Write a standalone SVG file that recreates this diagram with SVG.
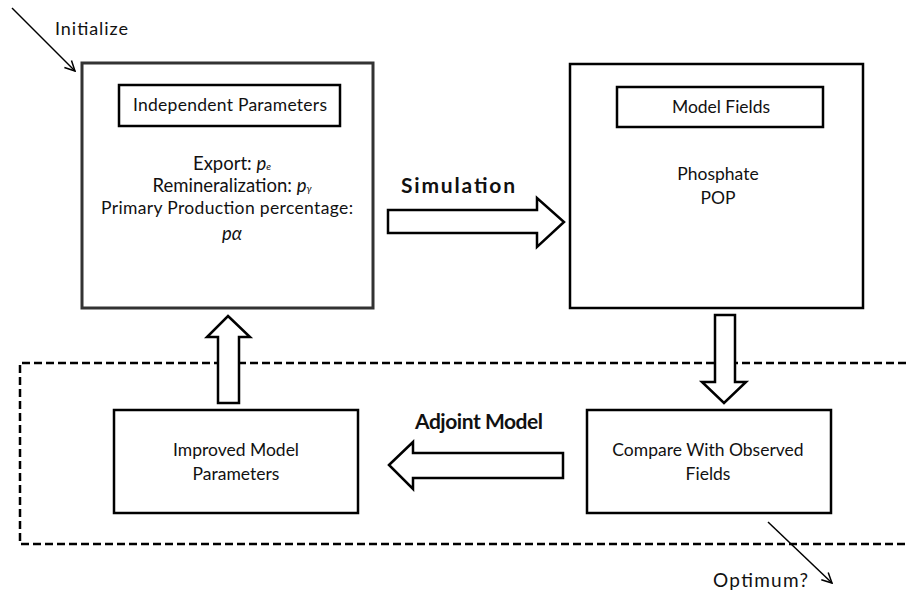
<svg xmlns="http://www.w3.org/2000/svg" width="906" height="591" viewBox="0 0 906 591">
<defs>
<style>
.t{font-family:Lato,"Open Sans","Liberation Sans",sans-serif;fill:#111;}
.n{font-size:17.5px;}
.b{font-size:21px;font-weight:bold;}
.box{fill:#fff;stroke:#000;stroke-width:2.5;}
.blk{fill:#fff;stroke:#000;stroke-width:2.5;stroke-linejoin:miter;}
.ln{stroke:#000;stroke-width:1.5;fill:none;}
.dash{fill:none;stroke:#000;stroke-width:2.5;stroke-dasharray:8 4;}
</style>
<marker id="open" viewBox="0 0 12 12" refX="11" refY="6" markerWidth="12" markerHeight="12" markerUnits="userSpaceOnUse" orient="auto">
<path d="M1,1 L11,6 L1,11" fill="none" stroke="#000" stroke-width="1.5"/>
</marker>
</defs>
<rect width="906" height="591" fill="#fff"/>

<path class="dash" d="M906,363 H20 V544 H906"/>

<g id="independent">
<rect x="82" y="63" width="291" height="245" fill="#fff" stroke="#333" stroke-width="3"/>
<rect class="box" x="119" y="85" width="221" height="41"/>
<text class="t n" x="230" y="111" text-anchor="middle" textLength="194" lengthAdjust="spacing">Independent Parameters</text>
<text class="t" font-size="18.5" x="232" y="170" text-anchor="middle">Export: <tspan font-style="italic">p</tspan><tspan font-style="italic" font-size="10">e</tspan></text>
<text class="t" font-size="18.5" x="232" y="192" text-anchor="middle">Remineralization:  <tspan font-style="italic">p</tspan><tspan font-style="italic" font-size="10">γ</tspan></text>
<text class="t n" x="227" y="214" text-anchor="middle" textLength="252" lengthAdjust="spacing">Primary Production percentage:</text>
<text class="t" font-size="18.5" x="232" y="240" text-anchor="middle" font-style="italic">pα</text>
</g>

<g id="modelfields">
<rect class="box" x="570" y="64" width="293" height="244"/>
<rect class="box" x="617" y="87" width="206" height="40"/>
<text class="t n" x="721" y="113" text-anchor="middle" textLength="98" lengthAdjust="spacing">Model Fields</text>
<text class="t n" x="718" y="180" text-anchor="middle">Phosphate</text>
<text class="t n" x="718" y="204" text-anchor="middle">POP</text>
</g>

<g id="improved">
<rect class="box" x="114" y="410" width="244" height="103"/>
<text class="t n" x="236" y="456" text-anchor="middle">Improved Model</text>
<text class="t n" x="236" y="480" text-anchor="middle">Parameters</text>
</g>

<g id="compare">
<rect class="box" x="587" y="410" width="244" height="103"/>
<text class="t n" x="708" y="456" text-anchor="middle">Compare With Observed</text>
<text class="t n" x="708" y="480" text-anchor="middle">Fields</text>
</g>

<g id="connectors">
<polygon class="blk" points="388,210 537,210 537,198 564,222 537,247 537,233 388,233"/>
<text class="t b" x="458" y="193" text-anchor="middle" textLength="114" lengthAdjust="spacing">Simulation</text>
<polygon class="blk" points="715,315 735,315 735,382 746,382 724,403 702,382 715,382"/>
<polygon class="blk" points="389,465 413,442 413,453 563,453 563,478 413,478 413,489"/>
<text class="t b" x="479" y="429" text-anchor="middle" textLength="128" lengthAdjust="spacing">Adjoint Model</text>
<polygon class="blk" points="228,316 250,337 239,337 239,403 218,403 218,337 207,337"/>
<line class="ln" x1="12" y1="8" x2="75" y2="71" marker-end="url(#open)"/>
<text class="t" font-size="18" x="55" y="35" textLength="73" lengthAdjust="spacing">Initialize</text>
<line class="ln" x1="768" y1="522" x2="832" y2="583" marker-end="url(#open)"/>
<text class="t" font-size="19" x="713" y="587" textLength="95" lengthAdjust="spacing">Optimum?</text>
</g>
</svg>
